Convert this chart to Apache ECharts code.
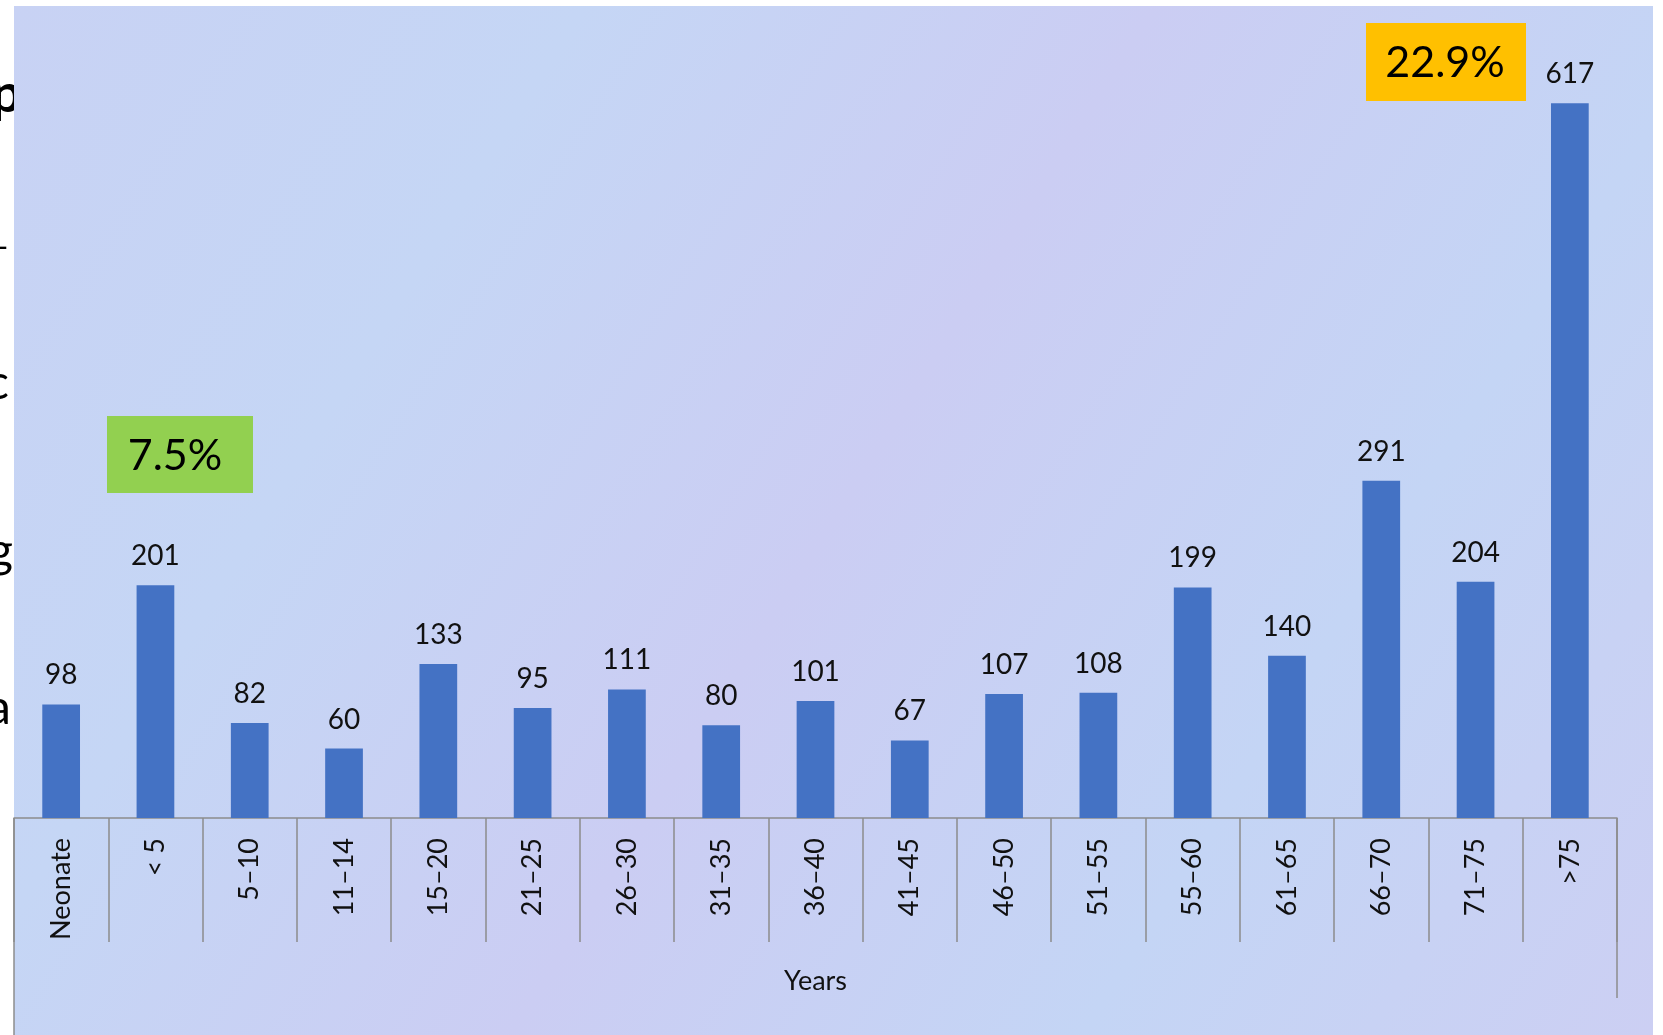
<!DOCTYPE html>
<html>
<head>
<meta charset="utf-8">
<title>Cases by age group</title>
<script src="https://cdn.jsdelivr.net/npm/echarts@6/dist/echarts.min.js"></script>
<style>
  html, body { margin: 0; padding: 0; background: #fff; }
  #chart { width: 1663px; height: 1035px; }
</style>
</head>
<body>
<div id="chart"></div>
<script>
var ageGroups = ['Neonate', '< 5', '5–10', '11–14', '15–20', '21–25', '26–30', '31–35', '36–40',
                 '41–45', '46–50', '51–55', '55–60', '61–65', '66–70', '71–75', '>75'];
var cases = [98, 201, 82, 60, 133, 95, 111, 80, 101, 67, 107, 108, 199, 140, 291, 204, 617];
var calloutLow = '7.5%';
var calloutHigh = '22.9%';

var myChart = echarts.init(document.getElementById('chart'));
var font = 'Lato, "Open Sans", sans-serif';

option = {
    backgroundColor: '#ffffff',
    animation: false,
    textStyle: { fontFamily: font },
    grid: { left: 14, right: 46, top: 7, bottom: 217 },
    xAxis: {
        type: 'category',
        data: ageGroups,
        boundaryGap: true,
        name: 'Years',
        nameLocation: 'middle',
        nameGap: 150,
        nameTextStyle: { fontSize: 27, color: '#111', fontFamily: font },
        axisLine: { lineStyle: { color: '#8c8c8c', width: 1.5 } },
        axisTick: { show: true, interval: 0, length: 124, lineStyle: { color: '#8c8c8c', width: 1.5 } },
        axisLabel: { interval: 0, rotate: 90, margin: 20, fontSize: 27, color: '#111', fontFamily: font }
    },
    yAxis: {
        type: 'value',
        min: 0,
        max: 700,
        show: false,
        splitLine: { show: false }
    },
    series: [{
        name: 'Cases',
        type: 'bar',
        data: cases,
        barWidth: '40%',
        itemStyle: { color: '#4472C4' },
        label: {
            show: true,
            position: 'top',
            distance: 15,
            fontSize: 28,
            color: '#111',
            fontFamily: font
        }
    }],
    graphic: [
        // slide text cut off at the left edge
        { type: 'text', z: -2, left: -9, top: 68, style: { text: 'p', fontSize: 54, fontWeight: 'bold', fill: '#000', fontFamily: font } },
        { type: 'text', z: -2, left: -3, top: 232, style: { text: '-', fontSize: 30, fill: '#000', fontFamily: font } },
        { type: 'text', z: -2, left: -14, top: 360, style: { text: 'c', fontSize: 48, fill: '#000', fontFamily: font } },
        { type: 'text', z: -2, left: -12, top: 528, style: { text: 'gl', fontSize: 48, fill: '#000', fontFamily: font } },
        { type: 'text', z: -2, left: -13, top: 685, style: { text: 'a', fontSize: 48, fill: '#000', fontFamily: font } },
        // textured backdrop
        {
            type: 'rect', z: -1, shape: { x: 14, y: 6, width: 1639, height: 1029 },
            style: {
                fill: new echarts.graphic.LinearGradient(0, 0, 1, 1, [
                    { offset: 0, color: '#c8d2f4' },
                    { offset: 0.25, color: '#c5d6f5' },
                    { offset: 0.5, color: '#cbcdf3' },
                    { offset: 0.75, color: '#c4d5f5' },
                    { offset: 1, color: '#cccff3' }
                ])
            }
        },
        // outer category dividers
        { type: 'line', z: 3, shape: { x1: 14, y1: 818, x2: 14, y2: 1035 }, style: { stroke: '#8c8c8c', lineWidth: 1.5 } },
        { type: 'line', z: 3, shape: { x1: 1617, y1: 818, x2: 1617, y2: 998 }, style: { stroke: '#8c8c8c', lineWidth: 1.5 } },
        // callouts
        { type: 'rect', z: 5, shape: { x: 107, y: 416, width: 146, height: 77 }, style: { fill: '#92D050' } },
        { type: 'text', z: 6, x: 175, y: 456, style: { text: calloutLow, fontSize: 43, fill: '#000', align: 'center', verticalAlign: 'middle', fontFamily: font } },
        { type: 'rect', z: 5, shape: { x: 1366, y: 23, width: 160, height: 78 }, style: { fill: '#FFC000' } },
        { type: 'text', z: 6, x: 1445, y: 63, style: { text: calloutHigh, fontSize: 43, fill: '#000', align: 'center', verticalAlign: 'middle', fontFamily: font } }
    ]
};

myChart.setOption(option);
</script>
</body>
</html>
